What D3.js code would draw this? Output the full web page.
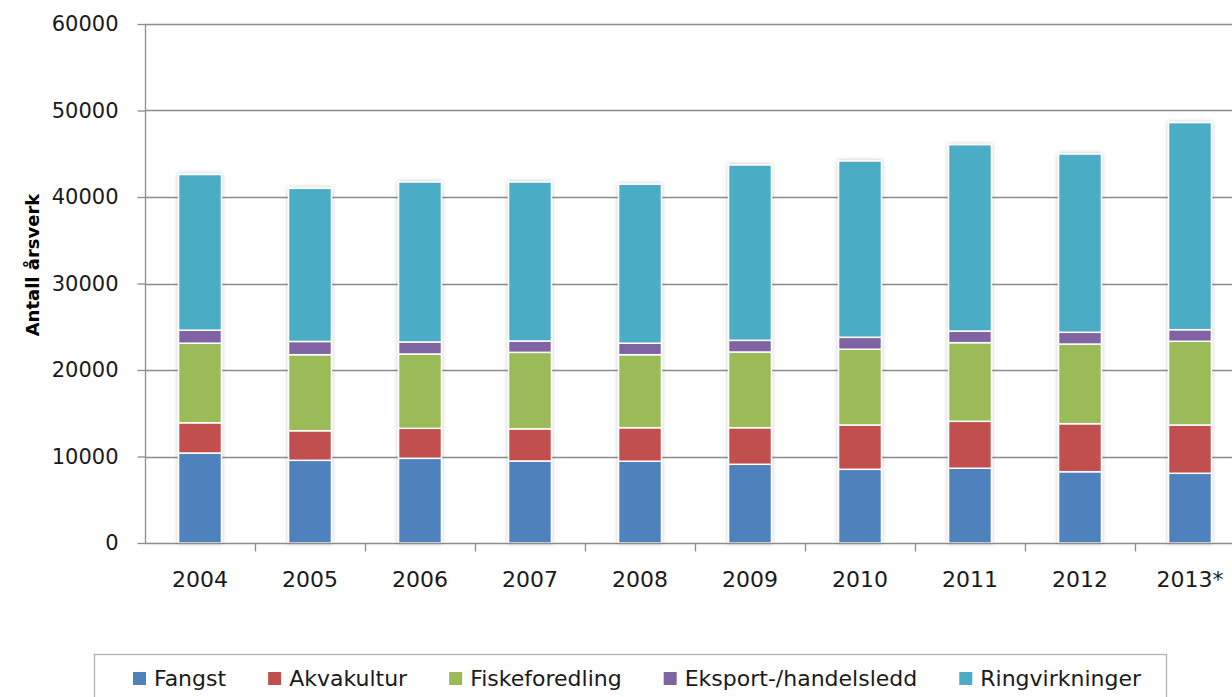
<!DOCTYPE html>
<html>
<head>
<meta charset="utf-8">
<script src="https://cdn.jsdelivr.net/npm/d3@7"></script>
<style>
body { margin: 0; background: #fff; }
svg text { font-family: "DejaVu Sans", sans-serif; fill: #1a1a1a; }
.grid line { stroke: #8c8c8c; stroke-width: 1.3; }
.axis path, .axis line { stroke: #8c8c8c; stroke-width: 1.3; }
</style>
</head>
<body>
<div id="chart"></div>
<script>
//---------------------------- data ----------------------------
var years = ["2004", "2005", "2006", "2007", "2008", "2009", "2010", "2011", "2012", "2013*"];
var seriesNames = ["Fangst", "Akvakultur", "Fiskeforedling", "Eksport-/handelsledd", "Ringvirkninger"];
var seriesColors = ["#4F81BD", "#C0504D", "#9BBB59", "#8064A2", "#4BACC6"];

var fangst =         [10400, 9560, 9790, 9480, 9450, 9100, 8520, 8640, 8240, 8060];
var akvakultur =     [3500, 3420, 3470, 3720, 3880, 4230, 5120, 5430, 5550, 5580];
var fiskeforedling = [9200, 8790, 8590, 8840, 8440, 8750, 8760, 9090, 9210, 9680];
var eksport =        [1500, 1530, 1390, 1310, 1330, 1350, 1380, 1340, 1360, 1340];
var ringvirkninger = [18000, 17700, 18490, 18380, 18370, 20270, 20380, 21550, 20610, 23940];

var yTicks = [0, 10000, 20000, 30000, 40000, 50000, 60000];

//---------------------------- setup ----------------------------
var W = 1232, H = 697;
var plot = {left: 145, top: 24, bottom: 543};
var band = 110;

var svg = d3.select("#chart").append("svg")
	.attr("width", W)
	.attr("height", H);

var defs = svg.append("defs");
var shadow = defs.append("filter").attr("id", "shadow")
	.attr("x", "-30%").attr("y", "-5%").attr("width", "160%").attr("height", "110%");
shadow.append("feGaussianBlur").attr("in", "SourceAlpha").attr("stdDeviation", 2).attr("result", "blur");
shadow.append("feComponentTransfer").attr("in", "blur").attr("result", "soft")
	.append("feFuncA").attr("type", "linear").attr("slope", 0.25);
var merge = shadow.append("feMerge");
merge.append("feMergeNode").attr("in", "soft");
merge.append("feMergeNode").attr("in", "SourceGraphic");

var x = d3.scaleBand()
	.domain(years)
	.range([plot.left, plot.left + band * years.length])
	.paddingInner(0.61)
	.paddingOuter(0.305);

var y = d3.scaleLinear()
	.domain([0, 60000])
	.range([plot.bottom, plot.top]);

//gridlines
svg.append("g").attr("class", "grid")
	.selectAll("line")
	.data(yTicks.slice(1))
	.enter().append("line")
	.attr("x1", plot.left).attr("x2", W)
	.attr("y1", function(d) { return Math.round(y(d)) + 0.5; })
	.attr("y2", function(d) { return Math.round(y(d)) + 0.5; });

//stacked bars
var rows = years.map(function(yr, i) {
	return {year: yr, Fangst: fangst[i], Akvakultur: akvakultur[i], Fiskeforedling: fiskeforedling[i],
		"Eksport-/handelsledd": eksport[i], Ringvirkninger: ringvirkninger[i]};
});
var stack = d3.stack().keys(seriesNames)(rows);

var barWrapper = svg.append("g").attr("filter", "url(#shadow)");
barWrapper.selectAll(".layer")
	.data(stack)
	.enter().append("g")
	.attr("class", "layer")
	.attr("fill", function(d, i) { return seriesColors[i]; })
	.selectAll("rect")
	.data(function(d) { return d; })
	.enter().append("rect")
	.attr("x", function(d) { return x(d.data.year); })
	.attr("width", x.bandwidth())
	.attr("y", function(d) { return y(d[1]); })
	.attr("height", function(d) { return y(d[0]) - y(d[1]); })
	.attr("stroke", "#fff")
	.attr("stroke-width", 1.5);

//y axis
var yAxis = d3.axisLeft(y).tickValues(yTicks).tickSize(8).tickPadding(19).tickFormat(d3.format("d"));
var gy = svg.append("g").attr("class", "axis")
	.attr("transform", "translate(" + (plot.left + 0.5) + ",0)")
	.call(yAxis);
gy.select(".domain").attr("d", "M0," + plot.top + "V" + plot.bottom);
gy.selectAll("text").style("font-size", "21px");

//x axis
var xPos = d3.scaleLinear().domain([0, years.length]).range([plot.left, plot.left + band * years.length]);
var gx = svg.append("g").attr("class", "axis")
	.attr("transform", "translate(0," + (plot.bottom + 0.5) + ")");
gx.append("line").attr("x1", plot.left).attr("x2", W);
gx.selectAll(".tk")
	.data(d3.range(1, years.length))
	.enter().append("line")
	.attr("class", "tk")
	.attr("x1", function(d) { return Math.round(xPos(d)) + 0.5; })
	.attr("x2", function(d) { return Math.round(xPos(d)) + 0.5; })
	.attr("y1", 0).attr("y2", 8);
gx.selectAll(".yearText")
	.data(years)
	.enter().append("text")
	.attr("class", "yearText")
	.attr("x", function(d) { return x(d) + x.bandwidth() / 2; })
	.attr("y", 43)
	.attr("text-anchor", "middle")
	.style("font-size", "22px")
	.text(function(d) { return d; });

//y title
svg.append("text")
	.attr("transform", "translate(39,265) rotate(-90)")
	.attr("text-anchor", "middle")
	.style("font-size", "18px")
	.style("font-weight", "bold")
	.style("fill", "#000")
	.text("Antall årsverk");

//legend
svg.append("rect")
	.attr("x", 94.5).attr("y", 654.5)
	.attr("width", 1072).attr("height", 60)
	.attr("fill", "#fff")
	.attr("stroke", "#b3b3b3")
	.attr("stroke-width", 1.3);

var lx = 133;
seriesNames.forEach(function(name, i) {
	var item = svg.append("g").attr("transform", "translate(" + lx + ",672)");
	item.append("rect")
		.attr("width", 13).attr("height", 13)
		.attr("fill", seriesColors[i]);
	var t = item.append("text")
		.attr("x", 21).attr("y", 14)
		.style("font-size", "22px")
		.text(name);
	lx += 21 + t.node().getComputedTextLength() + 42;
});
</script>
</body>
</html>
